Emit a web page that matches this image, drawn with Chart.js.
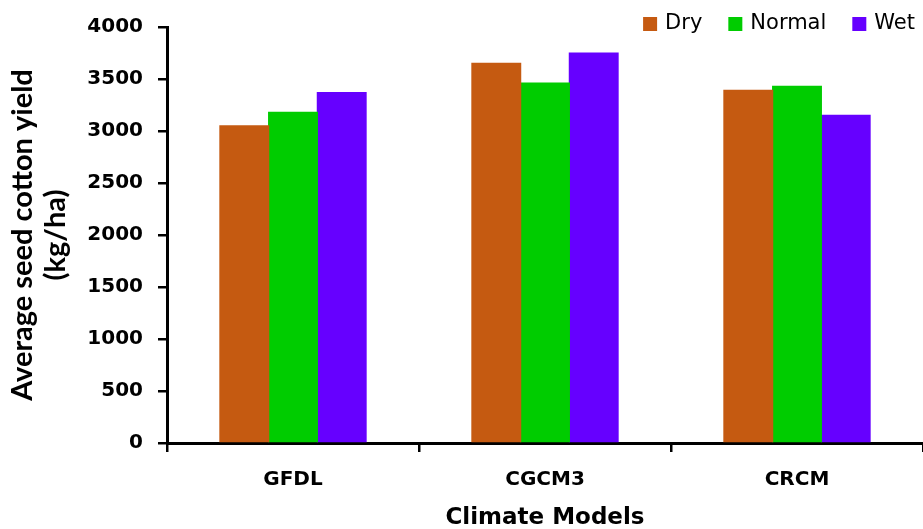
<!DOCTYPE html>
<html>
<head>
<meta charset="utf-8">
<script src="https://cdn.jsdelivr.net/npm/chart.js@4.4.1/dist/chart.umd.min.js"></script>
<style>
  html, body { margin: 0; padding: 0; background: #fff; }
  #wrap { width: 923px; height: 529px; position: relative; }
</style>
</head>
<body>
<div id="wrap"><canvas id="yieldChart"></canvas></div>
<script>
const models = ['GFDL', 'CGCM3', 'CRCM'];
const dryYield = [3050, 3650, 3390];
const normalYield = [3180, 3460, 3430];
const wetYield = [3370, 3750, 3150];
const yTicks = [0, 500, 1000, 1500, 2000, 2500, 3000, 3500, 4000];

// legend drawn top-right, partly above the plot area
const topLegend = {
  id: 'topLegend',
  afterDraw(chart) {
    const ctx = chart.ctx;
    const items = chart.data.datasets;
    ctx.save();
    ctx.font = '21px "DejaVu Sans"';
    ctx.textBaseline = 'middle';
    const box = 14, gapText = 8, gapItem = 26, yMid = 24;
    let total = 0;
    items.forEach((d, i) => {
      total += box + gapText + ctx.measureText(d.label).width + (i < items.length - 1 ? gapItem : 0);
    });
    let x = 915 - total;
    items.forEach(d => {
      ctx.fillStyle = d.backgroundColor;
      ctx.fillRect(x, yMid - box / 2, box, box);
      x += box + gapText;
      ctx.fillStyle = '#000';
      ctx.fillText(d.label, x, yMid);
      x += ctx.measureText(d.label).width + gapItem;
    });
    ctx.restore();
  }
};

new Chart(document.getElementById('yieldChart'), {
  type: 'bar',
  data: {
    labels: models,
    datasets: [
      {label: 'Dry', data: dryYield, backgroundColor: '#C55A11'},
      {label: 'Normal', data: normalYield, backgroundColor: '#00CC00'},
      {label: 'Wet', data: wetYield, backgroundColor: '#6600FF'}
    ]
  },
  options: {
    responsive: true,
    maintainAspectRatio: false,
    animation: false,
    categoryPercentage: 0.58,
    barPercentage: 1.0,
    borderWidth: 0,
    inflateAmount: 0.6,
    layout: { padding: { top: 27, right: 0, left: 0, bottom: 0 } },
    plugins: { legend: { display: false }, tooltip: { enabled: false } },
    scales: {
      x: {
        border: { display: true, color: '#000', width: 3 },
        grid: { drawOnChartArea: false, drawTicks: true, tickLength: 9, tickColor: '#000', lineWidth: 2.5, offset: true },
        ticks: { color: '#000', padding: 16, font: { family: '"DejaVu Sans"', weight: 'bold', size: 20 } },
        title: { display: true, text: 'Climate Models', color: '#000', padding: { top: 0, bottom: -3 },
                 font: { family: '"DejaVu Sans"', weight: 'bold', size: 23 } },
        afterFit(scale) { scale.height = 86; }
      },
      y: {
        min: 0,
        max: 4000,
        afterBuildTicks(scale) { scale.ticks = yTicks.map(v => ({value: v})); },
        border: { display: true, color: '#000', width: 3 },
        grid: { drawOnChartArea: false, drawTicks: true, tickLength: 9, tickColor: '#000', lineWidth: 2.5 },
        ticks: { color: '#000', padding: 15, callback: v => String(v),
                 font: { family: '"DejaVu Sans"', weight: 'bold', size: 20 } },
        title: { display: true, text: ['Average seed cotton yield', '(kg/ha)'], color: '#000', padding: { top: 6, bottom: 0 },
                 font: { family: 'Lato', weight: 'bold', size: 29, lineHeight: 1.15 } },
        afterFit(scale) { scale.width = 167; }
      }
    }
  },
  plugins: [topLegend]
});
</script>
</body>
</html>
